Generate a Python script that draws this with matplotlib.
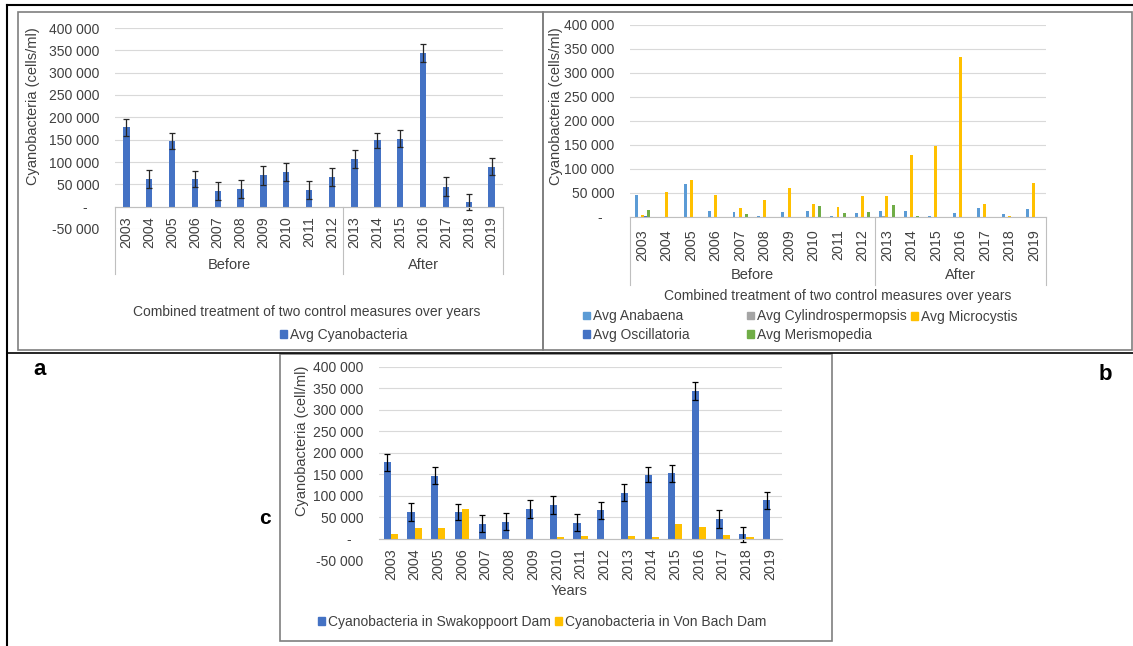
import matplotlib
matplotlib.use("Agg")
import matplotlib.pyplot as plt
from matplotlib.patches import Rectangle, Patch
from matplotlib.lines import Line2D
from matplotlib.ticker import FuncFormatter
import matplotlib.transforms as mtransforms
import numpy as np

plt.rcParams['font.family'] = ['Liberation Sans', 'DejaVu Sans']

# data
years = [str(y) for y in range(2003, 2020)]
periods = ["Before", "After"]
n_before = 10

avg_cyano = [177600, 62000, 147000, 62000, 35000, 39500, 70000, 78000, 37000,
             66000, 107000, 148500, 152000, 344000, 45000, 10500, 89000]
avg_cyano_err = [19000, 20000, 19000, 18000, 19500, 19500, 21000, 20500, 19700,
                 20000, 20000, 17500, 19000, 21000, 21000, 17500, 19000]

anabaena = [45000, 0, 68700, 13000, 11000, 3000, 11000, 13000, 3000, 9000,
            13000, 13000, 3000, 9000, 18700, 7000, 16600]
cylindro = [0, 0, 0, 0, 0, 0, 0, 0, 0, 0, 2000, 0, 0, 0, 0, 0, 0]
microcystis = [5000, 52700, 77700, 46500, 18000, 35400, 60300, 27700, 20000, 44400,
               43000, 129700, 147000, 334000, 27700, 3000, 71400]
oscillatoria = [3000, 0, 0, 0, 0, 0, 0, 0, 0, 0, 0, 0, 0, 0, 0, 0, 0]
merismopedia = [14600, 0, 0, 0, 7000, 0, 0, 23600, 8300, 10400,
                25700, 3000, 0, 0, 0, 0, 0]

swakoppoort = avg_cyano
swakoppoort_err = avg_cyano_err
von_bach = [11700, 25000, 25000, 69000, 0, 0, 0, 4000, 6000, 0,
            6000, 4000, 33500, 26500, 9300, 4000, 0]

BLUE = '#4472C4'
LBLUE = '#5B9BD5'
GRAY = '#A5A5A5'
YEL = '#FFC000'
GREEN = '#70AD47'
TXT = '#404040'

W, H = 1133, 646
fig = plt.figure(figsize=(W / 100, H / 100), dpi=100)


def fx(x):
    return x / W


def fy(y):
    return 1 - y / H


def px_axes(x0, y0, x1, y1):
    return fig.add_axes([fx(x0), fy(y1), (x1 - x0) / W, (y1 - y0) / H])


def fmt(v, pos):
    if v == 0:
        return "-   "
    return f"{v:,.0f}".replace(",", " ")


def style(ax, ymin):
    ax.set_xlim(-0.5, 16.5)
    ax.set_ylim(ymin, 400000)
    ax.set_yticks(np.arange(ymin, 400001, 50000))
    ax.yaxis.set_major_formatter(FuncFormatter(fmt))
    ax.grid(axis='y', color='#D9D9D9', lw=0.8)
    ax.set_axisbelow(True)
    for s in ['top', 'right', 'left']:
        ax.spines[s].set_visible(False)
    ax.spines['bottom'].set_position(('data', 0))
    ax.spines['bottom'].set_color('#BFBFBF')
    ax.set_xticks(range(len(years)))
    ax.set_xticklabels(years, rotation=90)
    ax.tick_params(axis='y', length=0, pad=11, labelsize=10, labelcolor=TXT)
    ax.tick_params(axis='x', length=0, pad=7, labelsize=10.3, labelcolor=TXT)
    ax.patch.set_alpha(0)


def groups(ax, y0, y1, ylab):
    tr = mtransforms.blended_transform_factory(ax.transData, fig.transFigure)
    for xv in [-0.5, n_before - 0.5, len(years) - 0.5]:
        ax.add_line(Line2D([xv, xv], [fy(y0), fy(y1)], transform=tr, color='#BFBFBF',
                           lw=0.8, clip_on=False))
    ax.text((n_before - 1) / 2, fy(ylab), periods[0], transform=tr, ha='center',
            va='center', fontsize=10.5, color=TXT)
    ax.text((n_before + len(years) - 1) / 2, fy(ylab), periods[1], transform=tr,
            ha='center', va='center', fontsize=10.5, color=TXT)


def legend_at(handles, labels, x, y):
    lg = fig.legend(handles, labels, loc='center left', bbox_to_anchor=(fx(x), fy(y)),
                    frameon=False, handlelength=0.5, handleheight=0.5, handletextpad=0.25,
                    borderaxespad=0, borderpad=0, fontsize=10, labelcolor=TXT,
                    labelspacing=0.3)
    return lg


x = np.arange(len(years))

# panel a
ax_a = px_axes(115, 28, 503, 229)
style(ax_a, -50000)
ax_a.bar(x, avg_cyano, width=0.28, color=BLUE)
ax_a.errorbar(x, avg_cyano, yerr=avg_cyano_err, fmt='none', ecolor='#262626',
              elinewidth=0.9, capsize=2.5, capthick=0.9)
groups(ax_a, 207, 274, 265)
fig.text(fx(33), fy(106), "Cyanobacteria (cells/ml)", rotation=90, ha='center',
         va='center', fontsize=10.5, color=TXT)
fig.text(fx(307), fy(312), "Combined treatment of two control measures over years",
         ha='center', va='center', fontsize=10, color=TXT)
legend_at([Patch(color=BLUE)], ["Avg Cyanobacteria"], 280, 335)

# panel b
ax_b = px_axes(630, 25, 1046, 217)
style(ax_b, 0)
series_b = [anabaena, cylindro, microcystis, oscillatoria, merismopedia]
colors_b = [LBLUE, GRAY, YEL, BLUE, GREEN]
names_b = ["Avg Anabaena", "Avg Cylindrospermopsis", "Avg Microcystis",
           "Avg Oscillatoria", "Avg Merismopedia"]
for i, (vals, c) in enumerate(zip(series_b, colors_b)):
    ax_b.bar(x + (i - 2) * 0.125, vals, width=0.12, color=c)
ax_b.tick_params(axis='x', pad=9)
groups(ax_b, 217, 285, 275)
fig.text(fx(556), fy(106), "Cyanobacteria (cells/ml)", rotation=90, ha='center',
         va='center', fontsize=10.5, color=TXT)
fig.text(fx(838), fy(296), "Combined treatment of two control measures over years",
         ha='center', va='center', fontsize=10, color=TXT)
hb = [Patch(color=c) for c in colors_b]
legend_at([hb[0], hb[3]], [names_b[0], names_b[3]], 583, 325.5)
legend_at([hb[1], hb[4]], [names_b[1], names_b[4]], 747, 325.5)
legend_at([hb[2]], [names_b[2]], 911, 317)

# panel c
ax_c = px_axes(379, 367, 782, 560)
style(ax_c, -50000)
ax_c.bar(x - 0.15, swakoppoort, width=0.3, color=BLUE)
ax_c.bar(x + 0.15, von_bach, width=0.3, color=YEL)
ax_c.errorbar(x - 0.15, swakoppoort, yerr=swakoppoort_err, fmt='none', ecolor='black',
              elinewidth=0.9, capsize=2.5, capthick=0.9)
fig.text(fx(302), fy(441), "Cyanobacteria (cell/ml)", rotation=90, ha='center',
         va='center', fontsize=10.5, color=TXT)
fig.text(fx(569), fy(591), "Years", ha='center', va='center', fontsize=10.5, color=TXT)
legend_at([Patch(color=BLUE)], ["Cyanobacteria in Swakoppoort Dam"], 318, 622)
legend_at([Patch(color=YEL)], ["Cyanobacteria in Von Bach Dam"], 555, 622)

# frames
for (x0, y0, x1, y1) in [(18, 12, 543, 350), (543, 12, 1132, 350), (280, 354, 832, 641)]:
    fig.add_artist(Rectangle((fx(x0), fy(y1)), (x1 - x0) / W, (y1 - y0) / H,
                             transform=fig.transFigure, fill=False, ec='#7F7F7F', lw=1.2))
fig.add_artist(Line2D([fx(7), 1], [fy(5), fy(5)], color='black', lw=1.5))
fig.add_artist(Line2D([fx(7), fx(7)], [fy(5), 0], color='black', lw=1.5))
fig.add_artist(Line2D([fx(7), 1], [fy(353), fy(353)], color='black', lw=1.2))

fig.text(fx(40), fy(370), "a", ha='center', va='center', fontsize=16, fontweight='bold')
fig.text(fx(1105), fy(375), "b", ha='center', va='center', fontsize=16, fontweight='bold')
fig.text(fx(265), fy(518), "c", ha='center', va='center', fontsize=15, fontweight='bold')

fig.savefig("out.png", dpi=100)
